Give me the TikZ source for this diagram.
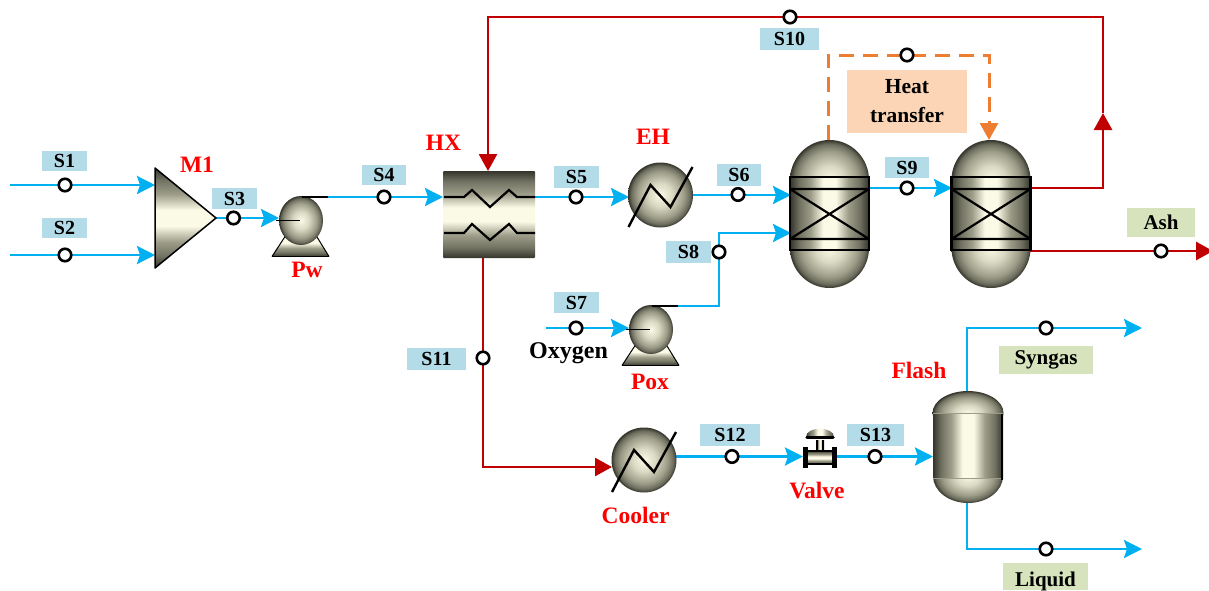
\documentclass[tikz,border=0pt]{standalone}
\usepackage{fontspec}
\setmainfont{Liberation Serif}
\usetikzlibrary{arrows.meta}
\definecolor{flowblue}{HTML}{00B0F0}
\definecolor{flowred}{HTML}{C00000}
\definecolor{floworange}{HTML}{ED7D31}
\definecolor{tagblue}{HTML}{B4DCE8}
\definecolor{taggreen}{HTML}{D6E3BC}
\definecolor{tagpeach}{HTML}{FBD5B5}
\definecolor{eqdark}{HTML}{34342B}
\definecolor{eqmid}{HTML}{9C9C88}
\definecolor{eqpale}{HTML}{DAD9C3}
\definecolor{eqlight}{HTML}{FAFAE6}
\pgfdeclareradialshading{eqball}{\pgfpoint{0bp}{0bp}}{color(0bp)=(eqlight); color(9bp)=(eqpale); color(18bp)=(eqmid); color(22.5bp)=(eqmid!55!eqdark); color(25bp)=(eqdark); color(50bp)=(eqdark)}
\pgfdeclarehorizontalshading{eqband}{100bp}{color(0bp)=(eqdark); color(25bp)=(eqdark); color(31bp)=(eqmid!60!eqdark); color(38bp)=(eqmid); color(46bp)=(eqlight); color(54bp)=(eqlight); color(62bp)=(eqmid); color(69bp)=(eqmid!60!eqdark); color(75bp)=(eqdark); color(100bp)=(eqdark)}
\tikzset{
  x=1pt,y=-1pt,
  bluearrow/.style={flowblue,line width=2.8pt,-{Stealth[length=18pt,width=18pt,inset=3pt]}},
  redarrow/.style={flowred,line width=2.8pt,-{Triangle[length=17pt,width=18pt]}},
  heatarrow/.style={floworange,line width=3pt,dash pattern=on 15pt off 9pt,-{Triangle[length=17pt,width=18pt,sep=0pt]}},
  dot/.style={circle,draw=black,fill=white,line width=2.6pt,minimum size=12.5pt,inner sep=0pt},
  tag/.style={fill=tagblue,inner sep=0pt,text=black,font=\fontsize{20}{22}\selectfont\bfseries},
  outtag/.style={fill=taggreen,inner sep=0pt,text=black,font=\fontsize{21}{23}\selectfont\bfseries},
  unitname/.style={inner sep=0pt,text=red,font=\fontsize{23.5}{25}\selectfont\bfseries},
  ballfill/.style={shading=eqball},
  vband/.style={shading=eqband,shading angle=90},
  hband/.style={shading=eqband},
  wire/.style={black,line width=2.2pt},
  pumpshape/.pic={
    \path[vband] (-29,36) -- (-9,4) -- (9,4) -- (28,36) -- cycle;
    \draw[black,line width=1.6pt] (-29,36) -- (28,36);
    \draw[black,line width=1pt] (-29,36) -- (-12,10) (28,36) -- (12,10);
    \path[ballfill] (0,0) ellipse [x radius=22,y radius=24.5];
    \draw[black,line width=1.4pt] (-25,0) -- (-1,0) (1,-23.5) -- (27,-23.5);
  },
  reactorshape/.pic={
    \path[ballfill] (0,-34) ellipse [x radius=39.5,y radius=40];
    \path[ballfill] (0,34) ellipse [x radius=39.5,y radius=40];
    \path[hband] (-39.5,-37) rectangle (39.5,36);
    \draw[black,line width=2.4pt] (-39.5,-37) rectangle (39.5,36);
    \draw[black,line width=2.2pt] (-39.5,-25) -- (39.5,-25) (-39.5,25) -- (39.5,25)
      (-39.5,-25) -- (39.5,25) (-39.5,25) -- (39.5,-25);
  },
  exchangerball/.pic={
    \path[ballfill] (0,0) circle [radius=32.5];
    \draw[black,line width=2.4pt] (-32,32) -- (-10,-10) -- (10,12) -- (32,-28);
  }
}
\begin{document}
\begin{tikzpicture}
\useasboundingbox (0,0) rectangle (1209,590);

% ports
\coordinate (s1a) at (10,185);   \coordinate (m1i1) at (155,185);
\coordinate (s2a) at (10,255);   \coordinate (m1i2) at (155,255);
\coordinate (m1o) at (216,218);  \coordinate (pwi) at (279,218);
\coordinate (pwo) at (328,197);  \coordinate (hxi) at (443,197);
\coordinate (hxo) at (535,197);  \coordinate (ehi) at (629,197);
\coordinate (eho) at (693,195);  \coordinate (r1i) at (791,195);
\coordinate (s7a) at (546,328);  \coordinate (poxi) at (629,328);
\coordinate (poxo) at (678,306); \coordinate (s8c1) at (719,306);
\coordinate (s8c2) at (719,233); \coordinate (r1j) at (791,233);
\coordinate (r1o) at (869,188);  \coordinate (r2i) at (952,188);
\coordinate (r1h) at (828,140);  \coordinate (hc1) at (828,55);
\coordinate (hc2) at (989,55);   \coordinate (r2h) at (989,140);
\coordinate (r2o) at (1030,188); \coordinate (rc1) at (1103,188);
\coordinate (rm) at (1103,113);  \coordinate (rc2) at (1103,17);
\coordinate (rc3) at (488,17);   \coordinate (hxt) at (488,171);
\coordinate (r2a) at (1030,251); \coordinate (ashend) at (1213,251);
\coordinate (hxb) at (483,258);  \coordinate (cc) at (483,467);
\coordinate (cooli) at (612,467);
\coordinate (coolo) at (676,456.5); \coordinate (vi) at (803,456.5);
\coordinate (vo) at (837,456.5);    \coordinate (fi) at (933,456.5);
\coordinate (ft) at (967,391);   \coordinate (fc1) at (967,328); \coordinate (synend) at (1142,328);
\coordinate (fb) at (967,503);   \coordinate (fc2) at (967,549); \coordinate (liqend) at (1142,549);

% connectors
\draw[bluearrow] (s1a) -- (m1i1);
\draw[bluearrow] (s2a) -- (m1i2);
\draw[bluearrow] (m1o) -- (pwi);
\draw[bluearrow] (pwo) -- (hxi);
\draw[bluearrow] (hxo) -- (ehi);
\draw[bluearrow] (eho) -- (r1i);
\draw[bluearrow] (s7a) -- (poxi);
\draw[bluearrow] (poxo) -- (s8c1) -- (s8c2) -- (r1j);
\draw[bluearrow] (r1o) -- (r2i);
\draw[bluearrow] (coolo) -- (vi);
\draw[bluearrow] (vo) -- (fi);
\draw[bluearrow] (ft) -- (fc1) -- (synend);
\draw[bluearrow] (fb) -- (fc2) -- (liqend);
\draw[heatarrow] (r1h) -- (hc1) -- (hc2) -- (r2h);
\draw[redarrow] (r2o) -- (rc1) -- (rm);
\draw[redarrow] (rm) -- (rc2) -- (rc3) -- (hxt);
\draw[redarrow] (r2a) -- (ashend);
\draw[redarrow] (hxb) -- (cc) -- (cooli);

% equipment
\path[vband] (155,168) -- (216,218) -- (155,268) -- cycle;
\draw[black,line width=1.5pt,line join=round] (155,168) -- (216,218) -- (155,268) -- cycle;
\pic at (301,220.5) {pumpshape};
\pic at (651,329.5) {pumpshape};
\path[vband,rounded corners=1pt] (443,171) rectangle (535,258);
\draw[wire] (444,197) -- (464,197) -- (472,190) -- (490,207) -- (509,190) -- (517,197) -- (535,197);
\draw[wire] (444,233) -- (464,233) -- (472,224) -- (490,240) -- (509,224) -- (517,233) -- (535,233);
\pic at (660.5,195) {exchangerball};
\pic at (829.5,214) {reactorshape};
\pic at (991,214) {reactorshape};
\pic at (644,460) {exchangerball};
% valve
\path[hband] (806,437) .. controls (806,426) and (834,426) .. (834,437) -- cycle;
\draw[black,line width=3.5pt,line cap=round] (807,437.5) -- (833,437.5);
\path[hband] (816,440) rectangle (824,452);
\draw[black,line width=1.2pt] (817,440) -- (817,451) (823,440) -- (823,451);
\path[vband] (805,451) rectangle (835,464);
\draw[black,line width=1.2pt] (805,451) -- (835,451) (805,464) -- (835,464);
\draw[black,line width=5pt] (805.5,447) -- (805.5,468) (834.5,447) -- (834.5,468);
% flash
\path[ballfill] (968,413) ellipse [x radius=35.5,y radius=22];
\path[ballfill] (968,476) ellipse [x radius=35,y radius=27];
\path[hband] (933,413) rectangle (1003,478);
\draw[eqmid,line width=.8pt] (933,413) -- (1003,413) (933,478) -- (1003,478);
\draw[black,line width=2pt] (1002,414) -- (1002,480);

% stream dots
\node[dot] (d1) at (65,185) {};
\node[dot] (d2) at (65,255) {};
\node[dot] (d3) at (233.5,218) {};
\node[dot] (d4) at (384,197) {};
\node[dot] (d5) at (576,197) {};
\node[dot] (d6) at (738,194.5) {};
\node[dot] (d7) at (576,328) {};
\node[dot] (d8) at (719,252) {};
\node[dot] (d9) at (907,188) {};
\node[dot] (d10) at (790,17) {};
\node[dot] (dheat) at (907,55) {};
\node[dot] (dash) at (1161,251) {};
\node[dot] (d11) at (483,358) {};
\node[dot] (d12) at (732,456.5) {};
\node[dot] (d13) at (875,456.5) {};
\node[dot] (dsyn) at (1046,328) {};
\node[dot] (dliq) at (1046,549) {};

% stream labels
\node[tag,minimum width=45pt,minimum height=20pt] (ts1) at (64.5,161) {S1};
\node[tag,minimum width=45pt,minimum height=20pt] (ts2) at (64.5,228) {S2};
\node[tag,minimum width=45pt,minimum height=21pt] (ts3) at (234.5,198.5) {S3};
\node[tag,minimum width=44pt,minimum height=20pt] (ts4) at (384,175) {S4};
\node[tag,minimum width=45pt,minimum height=22pt] (ts5) at (576.5,177) {S5};
\node[tag,minimum width=44pt,minimum height=22pt] (ts6) at (739,175) {S6};
\node[tag,minimum width=45pt,minimum height=21pt] (ts7) at (576.5,302.5) {S7};
\node[tag,minimum width=45pt,minimum height=22pt] (ts8) at (688.5,252) {S8};
\node[tag,minimum width=44pt,minimum height=21pt] (ts9) at (907,167.5) {S9};
\node[tag,minimum width=59pt,minimum height=22pt] (ts10) at (789.5,39) {S10};
\node[tag,minimum width=59pt,minimum height=22pt] (ts11) at (436.5,359) {S11};
\node[tag,minimum width=60pt,minimum height=22pt] (ts12) at (730,435) {S12};
\node[tag,minimum width=57pt,minimum height=22pt] (ts13) at (875.5,435) {S13};
\node[fill=tagpeach,minimum width=120pt,minimum height=63pt,inner sep=0pt,align=center,font=\fontsize{21.5}{29}\selectfont\bfseries] (theat) at (907,101.5) {Heat\\transfer};
\node[outtag,minimum width=94pt,minimum height=28pt] (tsyn) at (1046,360) {Syngas};
\node[outtag,minimum width=85pt,minimum height=27pt] (tliq) at (1045.5,576.5) {\raisebox{-9.5pt}[0pt][0pt]{Liquid}};
\node[outtag,minimum width=68pt,minimum height=29pt] (tash) at (1161,222.5) {Ash};

% unit names
\node[unitname] (nm1) at (197,165) {M1};
\node[unitname] (npw) at (307,270) {Pw};
\node[unitname] (nhx) at (443.5,143) {HX};
\node[unitname] (neh) at (653,137) {EH};
\node[unitname] (npox) at (650,382) {Pox};
\node[unitname] (ncool) at (635.5,515) {Cooler};
\node[unitname] (nvalve) at (817,491) {Valve};
\node[unitname] (nflash) at (919,370) {Flash};
\node[inner sep=0pt,font=\fontsize{24}{26}\selectfont\bfseries] (noxy) at (568.5,353) {Oxygen};
\end{tikzpicture}
\end{document}
